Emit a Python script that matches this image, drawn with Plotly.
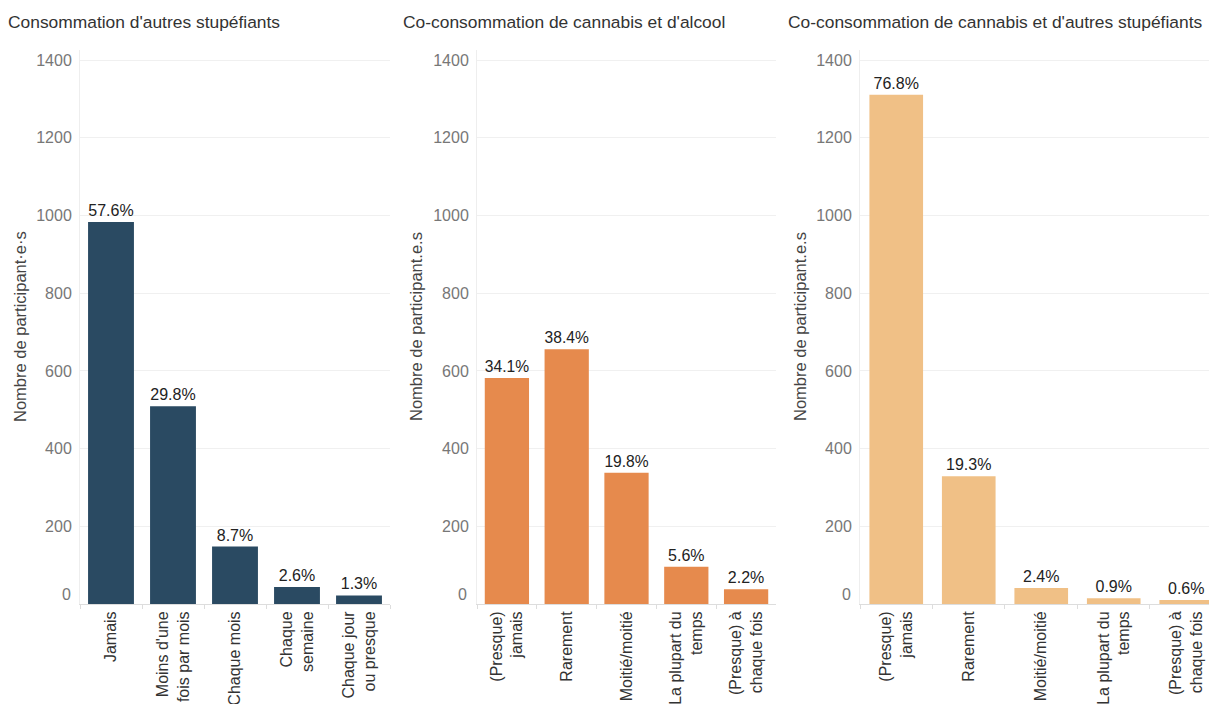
import plotly.graph_objects as go

# page (window) size; the page's body margin is removed in post_script below
PAGE_W, PAGE_H = 1209, 704
OFF = 0
W, H = PAGE_W - OFF, PAGE_H - OFF

# ---- data ----
titles = [
    "Consommation d'autres stupéfiants",
    "Co-consommation de cannabis et d'alcool",
    "Co-consommation de cannabis et d'autres stupéfiants",
]
ytitles = [
    "Nombre de participant·e·s",
    "Nombre de participant.e.s",
    "Nombre de participant.e.s",
]
cats1 = ["Jamais", "Moins d'une<br>fois par mois", "Chaque mois", "Chaque<br>semaine", "Chaque jour<br>ou presque"]
vals1 = [983, 509, 148, 44, 22]
pct1 = ["57.6%", "29.8%", "8.7%", "2.6%", "1.3%"]

cats2 = ["(Presque)<br>jamais", "Rarement", "Moitié/moitié", "La plupart du<br>temps", "(Presque) à<br>chaque fois"]
vals2 = [582, 656, 338, 96, 38]
pct2 = ["34.1%", "38.4%", "19.8%", "5.6%", "2.2%"]

cats3 = ["(Presque)<br>jamais", "Rarement", "Moitié/moitié", "La plupart du<br>temps", "(Presque) à<br>chaque fois"]
vals3 = [1311, 329, 41, 15, 10]
pct3 = ["76.8%", "19.3%", "2.4%", "0.9%", "0.6%"]

colors = ["#2a4a62", "#e68a4d", "#f0c086"]
ytickvals = [200, 400, 600, 800, 1000, 1200, 1400]

# ---- layout geometry (page pixels) ----
panels_x = [(80, 390), (477, 776), (860, 1209)]
xranges = [[-0.5, 4.5], [-0.5, 4.5], [-0.5, 4.314]]
title_x = [6, 401, 786]
ytitle_x = [20, 416, 800]
zero_x = [73, 469, 853]
plot_top, plot_bottom = 50, 604
yrange = [0, 1426]

FONT = "Liberation Sans, Arial, sans-serif"


def px(x):
    return (x - OFF) / W


def py(y):
    return 1 - (y - OFF) / H


fig = go.Figure()
data = [(cats1, vals1, pct1), (cats2, vals2, pct2), (cats3, vals3, pct3)]
for i, (c, v, p) in enumerate(data):
    ax = "" if i == 0 else str(i + 1)
    fig.add_trace(go.Bar(
        x=c, y=v, text=p, textposition="outside",
        textfont=dict(family=FONT, size=16, color="#222"),
        marker=dict(color=colors[i], line=dict(width=0)),
        xaxis="x" + ax, yaxis="y" + ax, cliponaxis=False,
        showlegend=False, hoverinfo="x+y",
    ))
    x0, x1 = panels_x[i]
    fig.layout["xaxis" + ax] = dict(
        domain=[px(x0), min(1, px(x1))], anchor="y" + ax, type="category",
        range=xranges[i], tickangle=-90, showgrid=False,
        showline=True, linecolor="#ddd", linewidth=1,
        ticks="outside", tickson="boundaries", ticklen=4, tickcolor="#ddd",
        tickfont=dict(family=FONT, size=16, color="#333"),
        automargin=False, fixedrange=True,
    )
    fig.layout["yaxis" + ax] = dict(
        domain=[py(plot_bottom), py(plot_top)], anchor="x" + ax,
        range=yrange, tickvals=ytickvals, showgrid=True, gridcolor="#f0f0f0",
        zeroline=False, showline=True, linecolor="#eeeeee",
        ticklabelstandoff=4,
        tickfont=dict(family=FONT, size=16, color="#777"),
        automargin=False, fixedrange=True,
    )
    fig.add_annotation(x=px(title_x[i]), y=py(22), xref="paper", yref="paper",
                       text=titles[i], showarrow=False, xanchor="left", yanchor="middle",
                       font=dict(family=FONT, size=17.4, color="#333"))
    fig.add_annotation(x=px(ytitle_x[i]), y=py((plot_top + plot_bottom) / 2),
                       xref="paper", yref="paper", text=ytitles[i], textangle=-90,
                       showarrow=False, xanchor="center", yanchor="middle",
                       font=dict(family=FONT, size=16.5, color="#444"))
    fig.add_annotation(x=px(zero_x[i]), y=py(594), xref="paper", yref="paper",
                       text="0", showarrow=False, xanchor="right", yanchor="middle",
                       font=dict(family=FONT, size=16, color="#777"))

fig.update_layout(
    width=W, height=H, margin=dict(l=0, r=0, t=0, b=0),
    paper_bgcolor="white", plot_bgcolor="white", bargap=0.26,
    font=dict(family=FONT),
)

fig.write_html(
    "out.html",
    config={"displayModeBar": False},
    post_script="document.body.style.margin='0';"
                "document.documentElement.style.overflow='hidden';"
                "document.body.style.overflow='hidden';",
)
